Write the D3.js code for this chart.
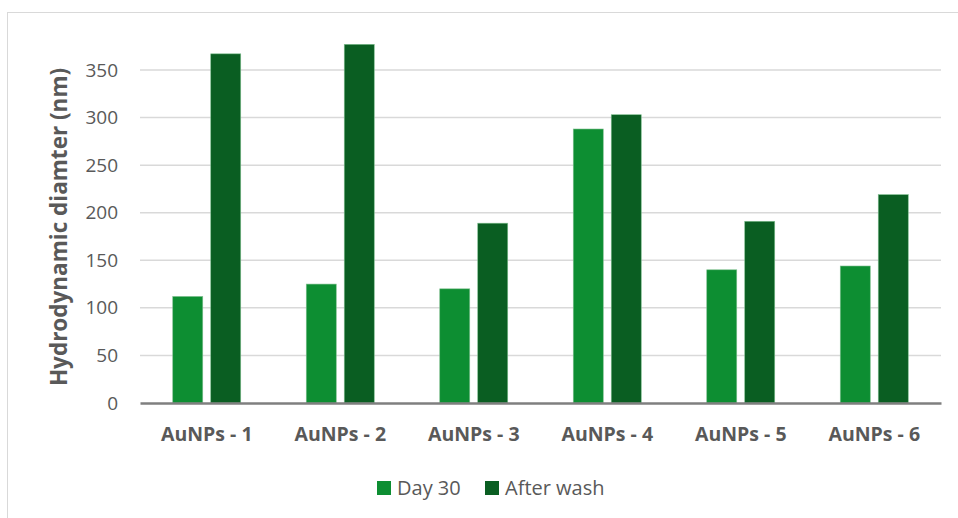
<!DOCTYPE html>
<html>
<head>
<meta charset="utf-8">
<script src="https://cdn.jsdelivr.net/npm/d3@7"></script>
<style>
  body { margin: 0; background: #fff; }
  svg { display: block; font-family: "Open Sans", "Noto Sans", sans-serif; }
</style>
</head>
<body>
<div id="chart"></div>
<script>
// chart data
const categories = ["AuNPs - 1", "AuNPs - 2", "AuNPs - 3", "AuNPs - 4", "AuNPs - 5", "AuNPs - 6"];
const seriesNames = ["Day 30", "After wash"];
const day30 = [112, 125, 120, 288, 140, 144];
const afterWash = [367, 377, 189, 303, 191, 219];
const yTicks = [0, 50, 100, 150, 200, 250, 300, 350];

const colors = { "Day 30": "#0d8e32", "After wash": "#0a5e22" };

const width = 958, height = 518;
const margin = { top: 23, right: 17, bottom: 115, left: 140 };
const innerW = width - margin.left - margin.right;
const innerH = height - margin.top - margin.bottom;

const svg = d3.select("#chart").append("svg")
    .attr("width", width)
    .attr("height", height);

// outer frame of the chart area
svg.append("rect")
    .attr("x", 7.5).attr("y", 12.5)
    .attr("width", 960).attr("height", 520)
    .attr("fill", "none")
    .attr("stroke", "#d9d9d9");

const g = svg.append("g")
    .attr("transform", `translate(${margin.left},${margin.top})`);

const x0 = d3.scaleBand().domain(categories).range([0, innerW]);
const x1 = d3.scaleBand().domain(seriesNames)
    .range([x0.bandwidth() / 2 - 34, x0.bandwidth() / 2 + 34])
    .paddingInner(0.21);
const y = d3.scaleLinear().domain([0, 380]).range([innerH, innerH - 380 * 0.9514]);

// gridlines
g.append("g")
    .selectAll("line")
    .data(yTicks.filter(d => d > 0))
    .join("line")
    .attr("x1", 0).attr("x2", innerW)
    .attr("y1", d => y(d)).attr("y2", d => y(d))
    .attr("stroke", "#d9d9d9")
    .attr("stroke-width", 1.5);

// y axis labels
const yAxis = g.append("g")
    .call(d3.axisLeft(y).tickValues(yTicks).tickSize(0).tickPadding(22));
yAxis.select(".domain").remove();
yAxis.selectAll("text")
    .style("font-size", "19px")
    .style("font-family", "'Open Sans', sans-serif")
    .attr("fill", "#595959");

const rows = categories.map((c, i) => ({ cat: c, "Day 30": day30[i], "After wash": afterWash[i] }));

// bars
g.append("g")
    .selectAll("g")
    .data(rows)
    .join("g")
    .attr("transform", d => `translate(${x0(d.cat)},0)`)
    .selectAll("rect")
    .data(d => seriesNames.map(s => ({ key: s, value: d[s] })))
    .join("rect")
    .attr("x", d => x1(d.key))
    .attr("width", x1.bandwidth())
    .attr("y", d => y(d.value))
    .attr("height", d => y(0) - y(d.value))
    .attr("fill", d => colors[d.key])
    .attr("stroke", "#7fbf8f")
    .attr("stroke-width", 0.6);

// x axis
const xAxis = g.append("g")
    .attr("transform", `translate(0,${innerH})`)
    .call(d3.axisBottom(x0).tickSize(0).tickPadding(24));
xAxis.select(".domain")
    .attr("stroke", "#7f7f7f")
    .attr("stroke-width", 2.5);
xAxis.selectAll("text")
    .style("font-size", "19.5px")
    .style("font-weight", "bold")
    .style("font-family", "'Open Sans', sans-serif")
    .attr("fill", "#595959");

// y axis title
svg.append("text")
    .attr("transform", `translate(67,227) rotate(-90)`)
    .attr("text-anchor", "middle")
    .style("font-size", "22.5px")
    .style("font-weight", "bold")
    .attr("fill", "#595959")
    .text("Hydrodynamic diamter (nm)");

// legend
const legend = svg.append("g").attr("transform", "translate(377,488)");
const items = legend.selectAll("g")
    .data(seriesNames)
    .join("g")
    .attr("transform", (d, i) => `translate(${i * 108},0)`);
items.append("rect")
    .attr("x", 0).attr("y", -7)
    .attr("width", 14).attr("height", 14)
    .attr("fill", d => colors[d]);
items.append("text")
    .attr("x", 20).attr("y", 0)
    .attr("dy", "0.35em")
    .style("font-size", "20px")
    .attr("fill", "#595959")
    .text(d => d);
</script>
</body>
</html>
